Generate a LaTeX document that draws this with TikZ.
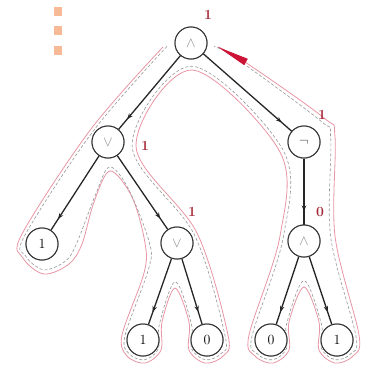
\documentclass[tikz,border=0pt]{standalone}
\usetikzlibrary{calc,decorations.markings,arrows.meta}
\definecolor{tourpink}{RGB}{232,150,165}
\definecolor{tourgray}{RGB}{150,150,150}
\definecolor{valred}{RGB}{165,40,55}
\definecolor{wedgered}{RGB}{205,20,55}
\definecolor{dotorange}{RGB}{246,186,150}
\newcommand{\tourdraw}[2]{%
\draw[#1] plot[smooth,tension=0.55] coordinates {
 ($(r)+#2*(-28,4)$) ($(a)+#2*(-17,-13)$)
 ($(c)+#2*(-20,-10)$) ($(c)+#2*(-19,14)$) ($(c)+#2*(2,30)$) ($(c)+#2*(27,20)$) ($(c)+#2*(40,0)$)
 ($(a)+#2*(-14,60)$) ($(a)+#2*(2,29)$) ($(a)+#2*(24,55)$)
 ($(d)+#2*(-32,0)$) ($(d)+#2*(-33,30)$)
 ($(f)+#2*(-21,-5)$) ($(f)+#2*(-16,16)$) ($(f)+#2*(2,23)$) ($(f)+#2*(18,10)$) ($(f)+#2*(19,-18)$)
 ($(d)+#2*(-2,45)$)
 ($(g)+#2*(-18,-18)$) ($(g)+#2*(-18,10)$) ($(g)+#2*(-2,23)$) ($(g)+#2*(16,16)$) ($(g)+#2*(21,-5)$)
 ($(d)+#2*(20,-10)$) ($(a)+#2*(28,4)$) ($(r)+#2*(1,27)$)
 ($(b)+#2*(-24,10)$) ($(e)+#2*(-24,-5)$)
 ($(h)+#2*(-22,-5)$) ($(h)+#2*(-16,16)$) ($(h)+#2*(2,23)$) ($(h)+#2*(18,10)$) ($(h)+#2*(18,-18)$)
 ($(e)+#2*(0,46)$)
 ($(i)+#2*(-18,-18)$) ($(i)+#2*(-18,10)$) ($(i)+#2*(-2,23)$) ($(i)+#2*(16,16)$) ($(i)+#2*(22,-5)$)
 ($(e)+#2*(31,-5)$) ($(b)+#2*(31,-5)$) ($(b)+#2*(20,-24)$)
 ($(r)+#2*(54,19)$) ($(r)+#2*(27,4)$)
};}
\begin{document}
\begin{tikzpicture}[x=1pt,y=-1pt,
  tnode/.style={circle,draw=black!80,line width=1pt,minimum size=32pt,inner sep=0pt,fill=white,
    font=\fontsize{14}{14}\selectfont},
  opnode/.style={tnode,text=black!45},
  edge/.style={line width=1.3pt,draw=black!85,
    decoration={markings,mark=at position -13pt with {\arrow{Stealth[length=6pt,width=4.5pt]}}},
    postaction={decorate}},
  val/.style={text=valred,font=\fontsize{14}{14}\selectfont\bfseries,inner sep=0pt},
  pinkline/.style={draw=tourpink,line width=0.8pt},
  dashline/.style={draw=tourgray,line width=0.6pt,dashed,dash pattern=on 3pt off 2pt}]
\useasboundingbox (0,0) rectangle (374,367);
% orange dots
\fill[dotorange] (54,7) rectangle (62,16);
\fill[dotorange] (54,26) rectangle (62,35);
\fill[dotorange] (54,46) rectangle (62,55);
% nodes
\node[opnode] (r) at (191,43) {$\wedge$};
\node[opnode] (a) at (108,142) {$\vee$};
\node[opnode,text=black!70] (b) at (304,142) {$\neg$};
\node[tnode] (c) at (42,244) {1};
\node[opnode] (d) at (177,243) {$\vee$};
\node[opnode] (e) at (304,241) {$\wedge$};
\node[tnode] (f) at (143,340) {1};
\node[tnode] (g) at (207,340) {0};
\node[tnode] (h) at (271,340) {0};
\node[tnode] (i) at (337,340) {1};
% tour
\begin{scope}[on background layer/.style={}]
\tourdraw{pinkline}{1}
\tourdraw{dashline}{0.86}
\end{scope}
% edges
\draw[edge] (r) -- (a);
\draw[edge] (r) -- (b);
\draw[edge] (a) -- (c);
\draw[edge] (a) -- (d);
\draw[edge] (b) -- (e);
\draw[edge] (d) -- (f);
\draw[edge] (d) -- (g);
\draw[edge] (e) -- (h);
\draw[edge] (e) -- (i);
% redraw nodes on top
\node[opnode] at (r) {$\wedge$};
\node[opnode] at (a) {$\vee$};
\node[opnode,text=black!70] at (b) {$\neg$};
\node[tnode] at (c) {1};
\node[opnode] at (d) {$\vee$};
\node[opnode] at (e) {$\wedge$};
\node[tnode] at (f) {1};
\node[tnode] at (g) {0};
\node[tnode] at (h) {0};
\node[tnode] at (i) {1};
% end wedge
\coordinate (wt) at ($(r)+(27,4)$);
\coordinate (wb) at ($(r)+(55,19)$);
\fill[wedgered] (wt) -- ($(wb)+(1.8,-3.2)$) -- ($(wb)+(-1.8,3.2)$) -- cycle;
% values
\node[val] (v1) at (208,15) {1};
\node[val] (v2) at (145,146) {1};
\node[val] (v3) at (322,115) {1};
\node[val] (v4) at (192,212) {1};
\node[val] (v5) at (320,212) {0};
\end{tikzpicture}
\end{document}
